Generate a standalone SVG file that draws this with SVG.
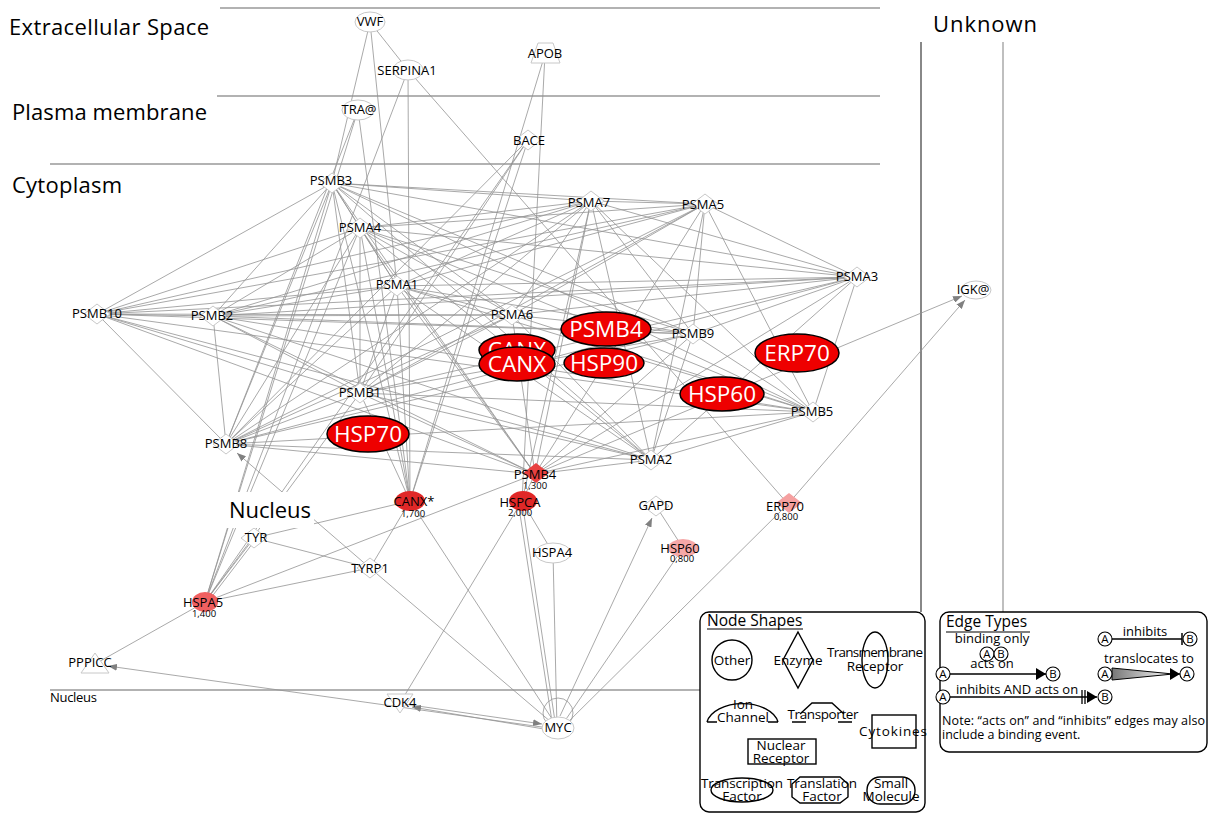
<svg xmlns="http://www.w3.org/2000/svg" width="1211" height="814" viewBox="0 0 1211 814">
<style>
text{font-family:"Open Sans","DejaVu Sans",sans-serif;fill:#000}
.cl{font-size:22px}
.lb{font-size:13px;text-anchor:middle}
.val{font-size:9.5px;text-anchor:middle}
.big{font-size:22.5px;text-anchor:middle;fill:#fff}
.sep{stroke:#999;stroke-width:1.5;fill:none}
.e{stroke:#939393;stroke-width:0.8;fill:none}
.nd{fill:#fff;stroke:#c8c8c8;stroke-width:1}
.ov{fill:#ee0000;stroke:#000;stroke-width:1.5}
.lg{fill:none;stroke:#000;stroke-width:1.4}
.lt{font-size:13.5px;text-anchor:middle}
.et{font-size:13px;text-anchor:middle}
.ci{fill:#fff;stroke:#000;stroke-width:1.1}
.ct{font-size:11.5px;text-anchor:middle}
</style>
<defs>
<path id="dm" d="M-13 0L0-10L13 0L0 10Z"/>
<marker id="ar" markerUnits="userSpaceOnUse" markerWidth="9" markerHeight="7" refX="9" refY="3.5" orient="auto"><path d="M0 0L9 3.5L0 7Z" fill="#808080"/></marker>
<marker id="ab" markerUnits="userSpaceOnUse" markerWidth="10" markerHeight="12" refX="10" refY="6" orient="auto"><path d="M0 0L10 6L0 12Z" fill="#000"/></marker>
<linearGradient id="gr" x1="0" x2="1" y1="0" y2="0"><stop offset="0" stop-color="#777"/><stop offset="1" stop-color="#fff"/></linearGradient>
</defs>
<rect width="1211" height="814" fill="#fff"/>

<g id="compartments">
<line class="sep" x1="220" y1="8" x2="880" y2="8"/>
<line class="sep" x1="217" y1="96" x2="880" y2="96"/>
<line class="sep" x1="50" y1="164" x2="880" y2="164"/>
<line class="sep" x1="50" y1="690" x2="700" y2="690"/>
<line x1="921" y1="42" x2="921" y2="612" stroke="#888" stroke-width="2"/>
<line x1="1003" y1="42" x2="1003" y2="612" stroke="#aaa" stroke-width="1.5"/>
<text class="cl" x="9" y="35" textLength="200">Extracellular Space</text>
<text class="cl" x="12" y="120" textLength="195">Plasma membrane</text>
<text class="cl" x="12" y="193" textLength="110">Cytoplasm</text>
<text class="cl" x="933" y="32" textLength="104">Unknown</text>
<text x="50" y="702" font-size="13" textLength="47">Nucleus</text>
</g>

<g id="connectors">
<path class="e" d="M332 183L591 201M332 183L705 204M332 183L360 228M332 183L857 277M332 183L397 286M332 183L97 314M332 183L213 316M332 183L512 315M332 183L693 334M332 183L360 393M332 183L226 444M332 183L813 412M332 183L651 460M332 183L535 474"/>
<path class="e" d="M591 201L705 204M591 201L360 228M591 201L857 277M591 201L397 286M591 201L97 314M591 201L213 316M591 201L512 315M591 201L693 334M591 201L360 393M591 201L226 444M591 201L813 412M591 201L651 460M591 201L535 474"/>
<path class="e" d="M705 204L360 228M705 204L857 277M705 204L397 286M705 204L97 314M705 204L213 316M705 204L512 315M705 204L693 334M705 204L360 393M705 204L226 444M705 204L813 412M705 204L651 460M705 204L535 474"/>
<path class="e" d="M360 228L857 277M360 228L397 286M360 228L97 314M360 228L213 316M360 228L512 315M360 228L693 334M360 228L360 393M360 228L226 444M360 228L813 412M360 228L651 460M360 228L535 474"/>
<path class="e" d="M857 277L397 286M857 277L97 314M857 277L213 316M857 277L512 315M857 277L693 334M857 277L360 393M857 277L226 444M857 277L813 412M857 277L651 460M857 277L535 474"/>
<path class="e" d="M397 286L97 314M397 286L213 316M397 286L512 315M397 286L693 334M397 286L360 393M397 286L226 444M397 286L813 412M397 286L651 460M397 286L535 474"/>
<path class="e" d="M97 314L213 316M97 314L512 315M97 314L693 334M97 314L360 393M97 314L226 444M97 314L813 412M97 314L651 460M97 314L535 474"/>
<path class="e" d="M213 316L512 315M213 316L693 334M213 316L360 393M213 316L226 444M213 316L813 412M213 316L651 460M213 316L535 474"/>
<path class="e" d="M512 315L693 334M512 315L360 393M512 315L226 444M512 315L813 412M512 315L651 460M512 315L535 474"/>
<path class="e" d="M693 334L360 393M693 334L226 444M693 334L813 412M693 334L651 460M693 334L535 474"/>
<path class="e" d="M360 393L226 444M360 393L813 412M360 393L651 460M360 393L535 474"/>
<path class="e" d="M226 444L813 412M226 444L651 460M226 444L535 474M813 412L651 460M813 412L535 474M651 460L535 474"/>
<path class="e" d="M370 22L408 70M370 22L332 183M370 22L397 286M408 70L410 501M408 70L205 602M408 70L788 504M358 110L226 444M358 110L410 501M358 110L205 602M545 54L410 501M545 54L522 501M528 140L360 393M528 140L226 444M528 140L205 602M528 140L410 501"/>
<path class="e" d="M205 602L332 183M205 602L360 228M205 602L360 393M205 602L254 538M207 603L256 539M205 602L370 568M205 602L535 474M205 602L95 664M254 538L370 568M254 538L410 501M370 568L410 501M370 568L558 728"/>
<path class="e" d="M410 501L332 183M410 501L360 228M410 501L397 286M410 501L360 393M410 501L558 728M522 501L535 474M522 501L553 553M522 501L556 728M518 501L553 728M522 501L400 703M522 501L591 201M553 553L557 728M683 548L560 728M656 506L683 548M788 504L562 728"/>
<circle class="e" cx="558" cy="713" r="15"/>
<path class="e" marker-end="url(#ar)" d="M370 568L237 453"/>
<path class="e" marker-end="url(#ar)" d="M560 716L652 518"/>
<path class="e" marker-end="url(#ar)" d="M788 504L965 300"/>
<path class="e" marker-end="url(#ar)" d="M535 474L962 296"/>
<path class="e" marker-end="url(#ar)" d="M404 704L542 724"/>
<path class="e" marker-end="url(#ar)" d="M544 729L412 707"/>
<path class="e" marker-end="url(#ar)" d="M556 729L108 666"/>
</g>

<g id="n-VWF"><ellipse class="nd" cx="370" cy="22" rx="15" ry="10"/><text class="lb" x="370" y="26">VWF</text></g>
<g id="n-SERPINA1"><ellipse class="nd" cx="408" cy="70" rx="15" ry="10"/><text class="lb" x="407" y="75">SERPINA1</text></g>
<g id="n-APOB"><path class="nd" d="M538 43H553L560 63H531Z"/><text class="lb" x="545" y="58">APOB</text></g>
<g id="n-TRA"><ellipse class="nd" cx="358" cy="110" rx="16" ry="10"/><text class="lb" x="359" y="114">TRA@</text></g>
<g id="n-BACE"><use href="#dm" x="528" y="140" class="nd"/><text class="lb" x="529" y="145">BACE</text></g>
<g id="n-PSMB3"><use href="#dm" x="332" y="183" class="nd"/><text class="lb" x="331" y="185">PSMB3</text></g>
<g id="n-PSMA7"><use href="#dm" x="591" y="201" class="nd"/><text class="lb" x="589" y="207">PSMA7</text></g>
<g id="n-PSMA5"><use href="#dm" x="705" y="204" class="nd"/><text class="lb" x="703" y="209">PSMA5</text></g>
<g id="n-PSMA4"><use href="#dm" x="360" y="228" class="nd"/><text class="lb" x="360" y="232">PSMA4</text></g>
<g id="n-PSMA3"><use href="#dm" x="857" y="277" class="nd"/><text class="lb" x="857" y="281">PSMA3</text></g>
<g id="n-PSMA1"><use href="#dm" x="397" y="286" class="nd"/><text class="lb" x="397" y="289">PSMA1</text></g>
<g id="n-PSMB10"><use href="#dm" x="97" y="314" class="nd"/><text class="lb" x="97" y="318">PSMB10</text></g>
<g id="n-PSMB2"><use href="#dm" x="213" y="316" class="nd"/><text class="lb" x="212" y="320">PSMB2</text></g>
<g id="n-PSMA6"><use href="#dm" x="512" y="315" class="nd"/><text class="lb" x="512" y="319">PSMA6</text></g>
<g id="n-PSMB9"><use href="#dm" x="693" y="334" class="nd"/><text class="lb" x="693" y="338">PSMB9</text></g>
<g id="n-PSMB1"><use href="#dm" x="360" y="393" class="nd"/><text class="lb" x="360" y="397">PSMB1</text></g>
<g id="n-PSMB8"><use href="#dm" x="226" y="444" class="nd"/><text class="lb" x="226" y="448">PSMB8</text></g>
<g id="n-PSMB5"><use href="#dm" x="813" y="412" class="nd"/><text class="lb" x="812" y="416">PSMB5</text></g>
<g id="n-PSMA2"><use href="#dm" x="651" y="460" class="nd"/><text class="lb" x="651" y="464">PSMA2</text></g>
<g id="n-PSMB4s"><use href="#dm" x="536" y="473" fill="#e84040"/><text class="lb" x="535" y="479">PSMB4</text><text class="val" x="535" y="489">1,300</text></g>
<g id="n-CANXs"><ellipse cx="410" cy="501" rx="15" ry="10" fill="#e02828"/><text class="lb" x="414" y="506">CANX*</text><text class="val" x="413" y="517">1,700</text></g>
<g id="n-HSPCA"><ellipse cx="523" cy="501" rx="14" ry="10" fill="#e02828"/><text class="lb" x="520" y="507">HSPCA</text><text class="val" x="520" y="516">2,000</text></g>
<g id="n-GAPD"><use href="#dm" x="656" y="506" class="nd"/><text class="lb" x="656" y="510">GAPD</text></g>
<g id="n-ERP70s"><use href="#dm" x="789" y="503" fill="#f5a0a0"/><text class="lb" x="785" y="511">ERP70</text><text class="val" x="786" y="520">0,800</text></g>
<g id="n-HSPA4"><ellipse class="nd" cx="553" cy="553" rx="18" ry="10"/><text class="lb" x="552" y="557">HSPA4</text></g>
<g id="n-HSP60s"><ellipse cx="683" cy="548" rx="15" ry="9" fill="#f5a8a8"/><text class="lb" x="680" y="553">HSP60</text><text class="val" x="682" y="562">0,800</text></g>
<g id="n-TYR"><use href="#dm" x="254" y="538" class="nd"/><text class="lb" x="256" y="542">TYR</text></g>
<g id="n-TYRP1"><use href="#dm" x="370" y="568" class="nd"/><text class="lb" x="370" y="573">TYRP1</text></g>
<g id="n-HSPA5"><ellipse cx="205" cy="602" rx="13" ry="10" fill="#f06060"/><text class="lb" x="203" y="607">HSPA5</text><text class="val" x="204" y="617">1,400</text></g>
<g id="n-PPPICC"><path class="nd" d="M95 653L109 673H81Z"/><text class="lb" x="90" y="667">PPPICC</text></g>
<g id="n-CDK4"><path class="nd" d="M387 694H413L400 713Z"/><text class="lb" x="400" y="707">CDK4</text></g>
<g id="n-MYC"><ellipse class="nd" cx="558" cy="728" rx="16" ry="11"/><text class="lb" x="558" y="732">MYC</text></g>
<g id="n-IGK"><ellipse class="nd" cx="976" cy="290" rx="15" ry="9"/><text class="lb" x="973" y="294">IGK@</text></g>

<g id="nucleus-label"><rect x="226" y="492" width="88" height="36" fill="#fff"/><text class="cl" x="229" y="518" textLength="82">Nucleus</text></g>

<g id="ov-PSMB4"><ellipse class="ov" cx="606" cy="329" rx="45" ry="17"/><text class="big" x="606" y="337">PSMB4</text></g>
<g id="ov-CANX2"><ellipse class="ov" cx="517" cy="350" rx="38" ry="16"/><text class="big" x="517" y="358">CANX</text></g>
<g id="ov-CANX"><ellipse class="ov" cx="517" cy="364" rx="38" ry="17"/><text class="big" x="517" y="372">CANX</text></g>
<g id="ov-HSP90"><ellipse class="ov" cx="604" cy="363" rx="40" ry="15"/><text class="big" x="604" y="371">HSP90</text></g>
<g id="ov-ERP70"><ellipse class="ov" cx="797" cy="353" rx="42" ry="19"/><text class="big" x="797" y="361">ERP70</text></g>
<g id="ov-HSP60"><ellipse class="ov" cx="722" cy="394" rx="42" ry="17"/><text class="big" x="722" y="402">HSP60</text></g>
<g id="ov-HSP70"><ellipse class="ov" cx="368" cy="434" rx="41" ry="18"/><text class="big" x="368" y="442">HSP70</text></g>

<g id="legend-nodes">
<rect x="700" y="612" width="225" height="200" rx="9" fill="#fff" stroke="#000" stroke-width="1.4"/>
<text x="707" y="626" font-size="15.5">Node Shapes</text>
<line x1="707" y1="629" x2="803" y2="629" stroke="#000" stroke-width="1.2"/>
<circle class="lg" cx="732" cy="660" r="20"/><text class="lt" x="732" y="665">Other</text>
<path class="lg" d="M798 632L813 660L798 688L783 660Z"/><text class="lt" x="798" y="665">Enzyme</text>
<ellipse class="lg" cx="875" cy="660" rx="13" ry="28"/><text class="lt" x="875" y="657" textLength="96">Transmembrane</text><text class="lt" x="875" y="671">Receptor</text>
<path class="lg" d="M707 722A36 22 0 0 1 778 722M707 722h10M768 722h10"/><text class="lt" x="743" y="709">Ion</text><text class="lt" x="743" y="722">Channel</text>
<path class="lg" d="M800 714L812 703H832L844 714M792 722H806M838 722H852"/><text class="lt" x="823" y="719" textLength="71">Transporter</text>
<rect class="lg" x="872" y="715" width="44" height="33"/><text class="lt" x="893" y="736" textLength="68">Cytokines</text>
<rect class="lg" x="748" y="739" width="68" height="25"/><text class="lt" x="781" y="750">Nuclear</text><text class="lt" x="781" y="763">Receptor</text>
<ellipse class="lg" cx="742" cy="790" rx="31" ry="12"/><text class="lt" x="742" y="788" textLength="82">Transcription</text><text class="lt" x="742" y="801">Factor</text>
<path class="lg" d="M800 777H840L848 784V797L840 803H800L792 797V784Z"/><text class="lt" x="822" y="788" textLength="70">Translation</text><text class="lt" x="822" y="801">Factor</text>
<rect class="lg" x="867" y="777" width="48" height="27" rx="13"/><text class="lt" x="891" y="788">Small</text><text class="lt" x="891" y="801">Molecule</text>
</g>

<g id="legend-edges">
<rect x="940" y="612" width="267" height="140" rx="9" fill="#fff" stroke="#000" stroke-width="1.4"/>
<text x="946" y="627" font-size="15.5">Edge Types</text>
<line x1="946" y1="632" x2="1030" y2="632" stroke="#000" stroke-width="1.2"/>
<text class="et" x="992" y="643">binding only</text>
<circle class="ci" cx="987" cy="654" r="7"/><text class="ct" x="987" y="658">A</text>
<circle class="ci" cx="1001" cy="654" r="7"/><text class="ct" x="1001" y="658">B</text>
<text class="et" x="992" y="668">acts on</text>
<line x1="950" y1="674" x2="1046" y2="674" stroke="#000" stroke-width="1.3" marker-end="url(#ab)"/>
<circle class="ci" cx="943" cy="674" r="7"/><text class="ct" x="943" y="678">A</text>
<circle class="ci" cx="1053" cy="674" r="7"/><text class="ct" x="1053" y="678">B</text>
<text class="et" x="1017" y="694">inhibits AND acts on</text>
<line x1="950" y1="697" x2="1097" y2="697" stroke="#000" stroke-width="1.3" marker-end="url(#ab)"/>
<path d="M1082 690V704M1085 690V704" stroke="#000" stroke-width="1.3"/>
<circle class="ci" cx="943" cy="697" r="7"/><text class="ct" x="943" y="701">A</text>
<circle class="ci" cx="1105" cy="697" r="7"/><text class="ct" x="1105" y="701">B</text>
<text class="et" x="1145" y="636">inhibits</text>
<line x1="1112" y1="639" x2="1182" y2="639" stroke="#000" stroke-width="1.3"/>
<path d="M1182 633V645" stroke="#000" stroke-width="1.5"/>
<circle class="ci" cx="1105" cy="639" r="7"/><text class="ct" x="1105" y="643">A</text>
<circle class="ci" cx="1190" cy="639" r="7"/><text class="ct" x="1190" y="643">B</text>
<text class="et" x="1149" y="663">translocates to</text>
<path d="M1112 668L1173 674L1112 680Z" fill="url(#gr)" stroke="#000" stroke-width="1"/>
<line x1="1170" y1="674" x2="1180" y2="674" stroke="#000" stroke-width="1.3" marker-end="url(#ab)"/>
<circle class="ci" cx="1105" cy="674" r="7"/><text class="ct" x="1105" y="678">A</text>
<circle class="ci" cx="1187" cy="674" r="7"/><text class="ct" x="1187" y="678">A</text>
<text x="942" y="725" font-size="12.5" textLength="263">Note: “acts on” and “inhibits” edges may also</text>
<text x="942" y="739" font-size="12.5">include a binding event.</text>
</g>
</svg>
